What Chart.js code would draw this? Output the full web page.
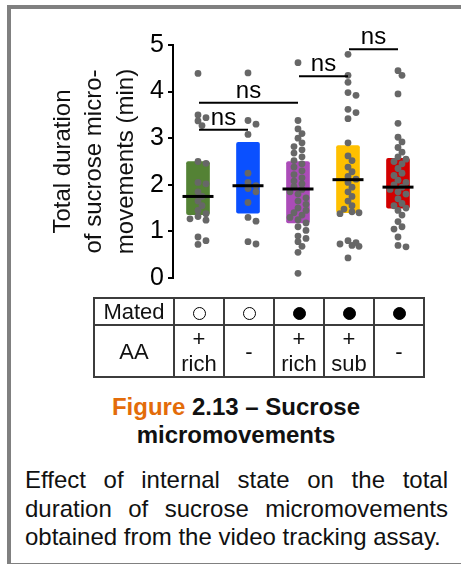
<!DOCTYPE html>
<html>
<head>
<meta charset="utf-8">
<script src="https://cdn.jsdelivr.net/npm/chart.js@4.4.1/dist/chart.umd.min.js"></script>
<style>
  body { margin: 0; width: 461px; height: 564px; position: relative; background: #fff; overflow: hidden;
         font-family: "Liberation Sans", Arial, sans-serif; color: #111; }
  #frame { position: absolute; left: 7px; top: 5px; width: 470px; height: 554px;
           border-left: 4px solid #808080; border-top: 4px solid #808080; border-bottom: 2px solid #808080; }
  #chart { position: absolute; left: 0; top: 0; }
  #tbl { position: absolute; left: 93px; top: 297px; border-collapse: collapse; table-layout: fixed;
         font-size: 22px; width: 331px; }
  #tbl td { border: 2px solid #3c3c3c; padding: 0; text-align: center; vertical-align: middle; line-height: 25px; }
  .circ { display: inline-block; width: 11px; height: 11px; border-radius: 50%; border: 1.5px solid #000; vertical-align: middle; }
  .circ.full { background: #000; }
  #cap { position: absolute; left: 11px; width: 450px; top: 393px; text-align: center;
         font-weight: bold; font-size: 24px; line-height: 28px; color: #111; }
  #cap span { color: #E36C0A; }
  #txt { position: absolute; left: 25px; width: 423px; top: 466px; text-align: justify;
         font-size: 24px; line-height: 28.5px; color: #111; }
</style>
</head>
<body>
<div id="frame"></div>
<canvas id="chart" width="461" height="310"></canvas>
<table id="tbl">
  <colgroup><col style="width:80px"><col style="width:50px"><col style="width:50px"><col style="width:50px"><col style="width:50px"><col style="width:50px"></colgroup>
  <tr style="height:27px">
    <td>Mated</td>
    <td><span class="circ"></span></td>
    <td><span class="circ"></span></td>
    <td><span class="circ full"></span></td>
    <td><span class="circ full"></span></td>
    <td><span class="circ full"></span></td>
  </tr>
  <tr style="height:50px">
    <td>AA</td>
    <td>+<br>rich</td>
    <td>-</td>
    <td>+<br>rich</td>
    <td>+<br>sub</td>
    <td>-</td>
  </tr>
</table>
<div id="cap"><span>Figure</span> 2.13 – Sucrose<br>micromovements</div>
<div id="txt">Effect of internal state on the total duration of sucrose micromovements obtained from the video tracking assay.</div>

<script>
// groups: virgin AA+ rich, virgin AA-, mated AA+ rich, mated AA+ sub, mated AA-
const categories = ["Virgin AA rich", "Virgin AA-", "Mated AA rich", "Mated AA sub", "Mated AA-"];
const boxLow = [1.36, 1.39, 1.18, 1.4, 1.5];
const boxHigh = [2.5, 2.91, 2.5, 2.84, 2.57];
const medians = [1.75, 1.98, 1.91, 2.11, 1.95];
const barColors = ["#548235", "#0a50ff", "#ab4cb8", "#ffc000", "#d20000"];

const pointsVirginRich = [4.39, 3.5, 3.44, 3.37, 3.27, 2.5, 2.46, 2.05, 2.02, 1.85, 1.75, 1.65, 1.55,
  1.45, 1.38, 1.32, 1.27, 1.24, 0.88, 0.8, 0.72];
const pointsVirginNone = [4.4, 3.38, 3.3, 3.08, 2.25, 2.05, 1.98, 1.92, 1.85, 1.62, 1.3, 1.22, 0.78, 0.73];
const pointsMatedRich = [4.62, 3.38, 3.2, 3.1, 3.0, 2.9, 2.82, 2.75, 2.68, 2.6, 2.52, 2.45, 2.38, 2.3,
  2.22, 2.15, 2.08, 2.02, 1.96, 1.9, 1.85, 1.8, 1.72, 1.65, 1.58, 1.5, 1.45, 1.4, 1.35, 1.3, 1.25,
  1.18, 1.1, 1.02, 0.9, 0.85, 0.78, 0.68, 0.55, 0.1];
const pointsMatedSub = [4.8, 4.35, 4.2, 3.98, 3.92, 3.62, 3.55, 3.42, 2.9, 2.62, 2.52, 2.38, 2.28, 2.18,
  2.12, 2.05, 1.95, 1.85, 1.75, 1.65, 1.55, 1.48, 1.42, 1.4, 1.38, 0.8, 0.76, 0.73, 0.7, 0.68, 0.43];
const pointsMatedNone = [4.45, 4.35, 3.95, 3.32, 3.02, 2.92, 2.8, 2.7, 2.6, 2.55, 2.5, 2.45, 2.35, 2.25,
  2.2, 2.1, 2.05, 2.0, 1.95, 1.9, 1.85, 1.8, 1.7, 1.6, 1.55, 1.5, 1.45, 1.35, 1.21, 1.1, 1.05, 0.88,
  0.7, 0.67];
const allPoints = [pointsVirginRich, pointsVirginNone, pointsMatedRich, pointsMatedSub, pointsMatedNone];

// significance brackets
const bracketFrom = [0, 0, 2, 3];
const bracketTo = [1, 2, 3, 4];
const bracketY = [3.18, 3.76, 4.33, 4.91];
const bracketLabel = ["ns", "ns", "ns", "ns"];

// small beeswarm so dots don't sit on top of each other
function swarm(values, idx) {
  const placed = [];
  const cands = [0, 4, -4, 8, -8, 11, -11];
  return values.map(v => {
    const yp = v * 46.6;
    let best = 0, bestD = -1;
    for (const c of cands) {
      let d = Infinity;
      for (const p of placed) d = Math.min(d, Math.hypot(p[0] - c, p[1] - yp));
      if (d >= 5.5) { best = c; bestD = d; break; }
      if (d > bestD) { bestD = d; best = c; }
    }
    placed.push([best, yp]);
    return { x: idx + best / 50, y: v };
  });
}

const font = "'Liberation Sans', Arial, sans-serif";

const brackets = {
  id: "brackets",
  afterDatasetsDraw(chart) {
    const ctx = chart.ctx;
    const xs = chart.scales.x, ys = chart.scales.y;
    ctx.save();
    ctx.strokeStyle = "#000";
    ctx.fillStyle = "#000";
    ctx.lineWidth = 2;
    ctx.font = "24px " + font;
    ctx.textAlign = "center";
    ctx.textBaseline = "alphabetic";
    for (let i = 0; i < bracketY.length; i++) {
      const x1 = xs.getPixelForValue(bracketFrom[i]) + 1;
      const x2 = xs.getPixelForValue(bracketTo[i]);
      const y = ys.getPixelForValue(bracketY[i]);
      ctx.beginPath();
      ctx.moveTo(x1, y);
      ctx.lineTo(x2, y);
      ctx.stroke();
      ctx.fillText(bracketLabel[i], (x1 + x2) / 2, y - 5);
    }
    ctx.restore();
  }
};

new Chart(document.getElementById("chart"), {
  type: "bar",
  data: {
    labels: categories,
    datasets: [
      {
        type: "scatter",
        xAxisID: "x2",
        data: medians.map((m, i) => ({ x: i, y: m })),
        pointStyle: "line",
        radius: 15.5,
        borderWidth: 3,
        borderColor: "#000",
        order: 0
      },
      {
        type: "scatter",
        xAxisID: "x2",
        data: allPoints.flatMap((vals, i) => swarm(vals, i)),
        pointRadius: 3.4,
        backgroundColor: "#676767",
        borderWidth: 0,
        order: 1
      },
      {
        data: boxLow.map((lo, i) => [lo, boxHigh[i]]),
        backgroundColor: barColors,
        barThickness: 23,
        grouped: false,
        borderRadius: 2,
        borderSkipped: false,
        order: 2
      }
    ]
  },
  options: {
    responsive: false,
    animation: false,
    layout: { padding: { left: 0, top: 45, right: 38, bottom: 32 } },
    plugins: { legend: { display: false }, tooltip: { enabled: false } },
    scales: {
      x: { display: false, offset: true },
      x2: { type: "linear", display: false, offset: false, min: -0.5, max: 4.5 },
      y: {
        min: 0,
        max: 5,
        ticks: { stepSize: 1, color: "#000", padding: 4, font: { size: 25, family: font } },
        grid: { drawOnChartArea: false, drawTicks: true, tickLength: 5, color: "#000", lineWidth: 2 },
        border: { display: true, color: "#000", width: 2 },
        title: {
          display: true,
          text: ["Total duration", "of sucrose micro-", "movements (min)"],
          color: "#111",
          font: { size: 24, family: font, lineHeight: 1.3 },
          padding: { top: 48, bottom: 0 }
        },
        afterFit(scale) { scale.width = 173; }
      }
    }
  },
  plugins: [brackets]
});
</script>
</body>
</html>
